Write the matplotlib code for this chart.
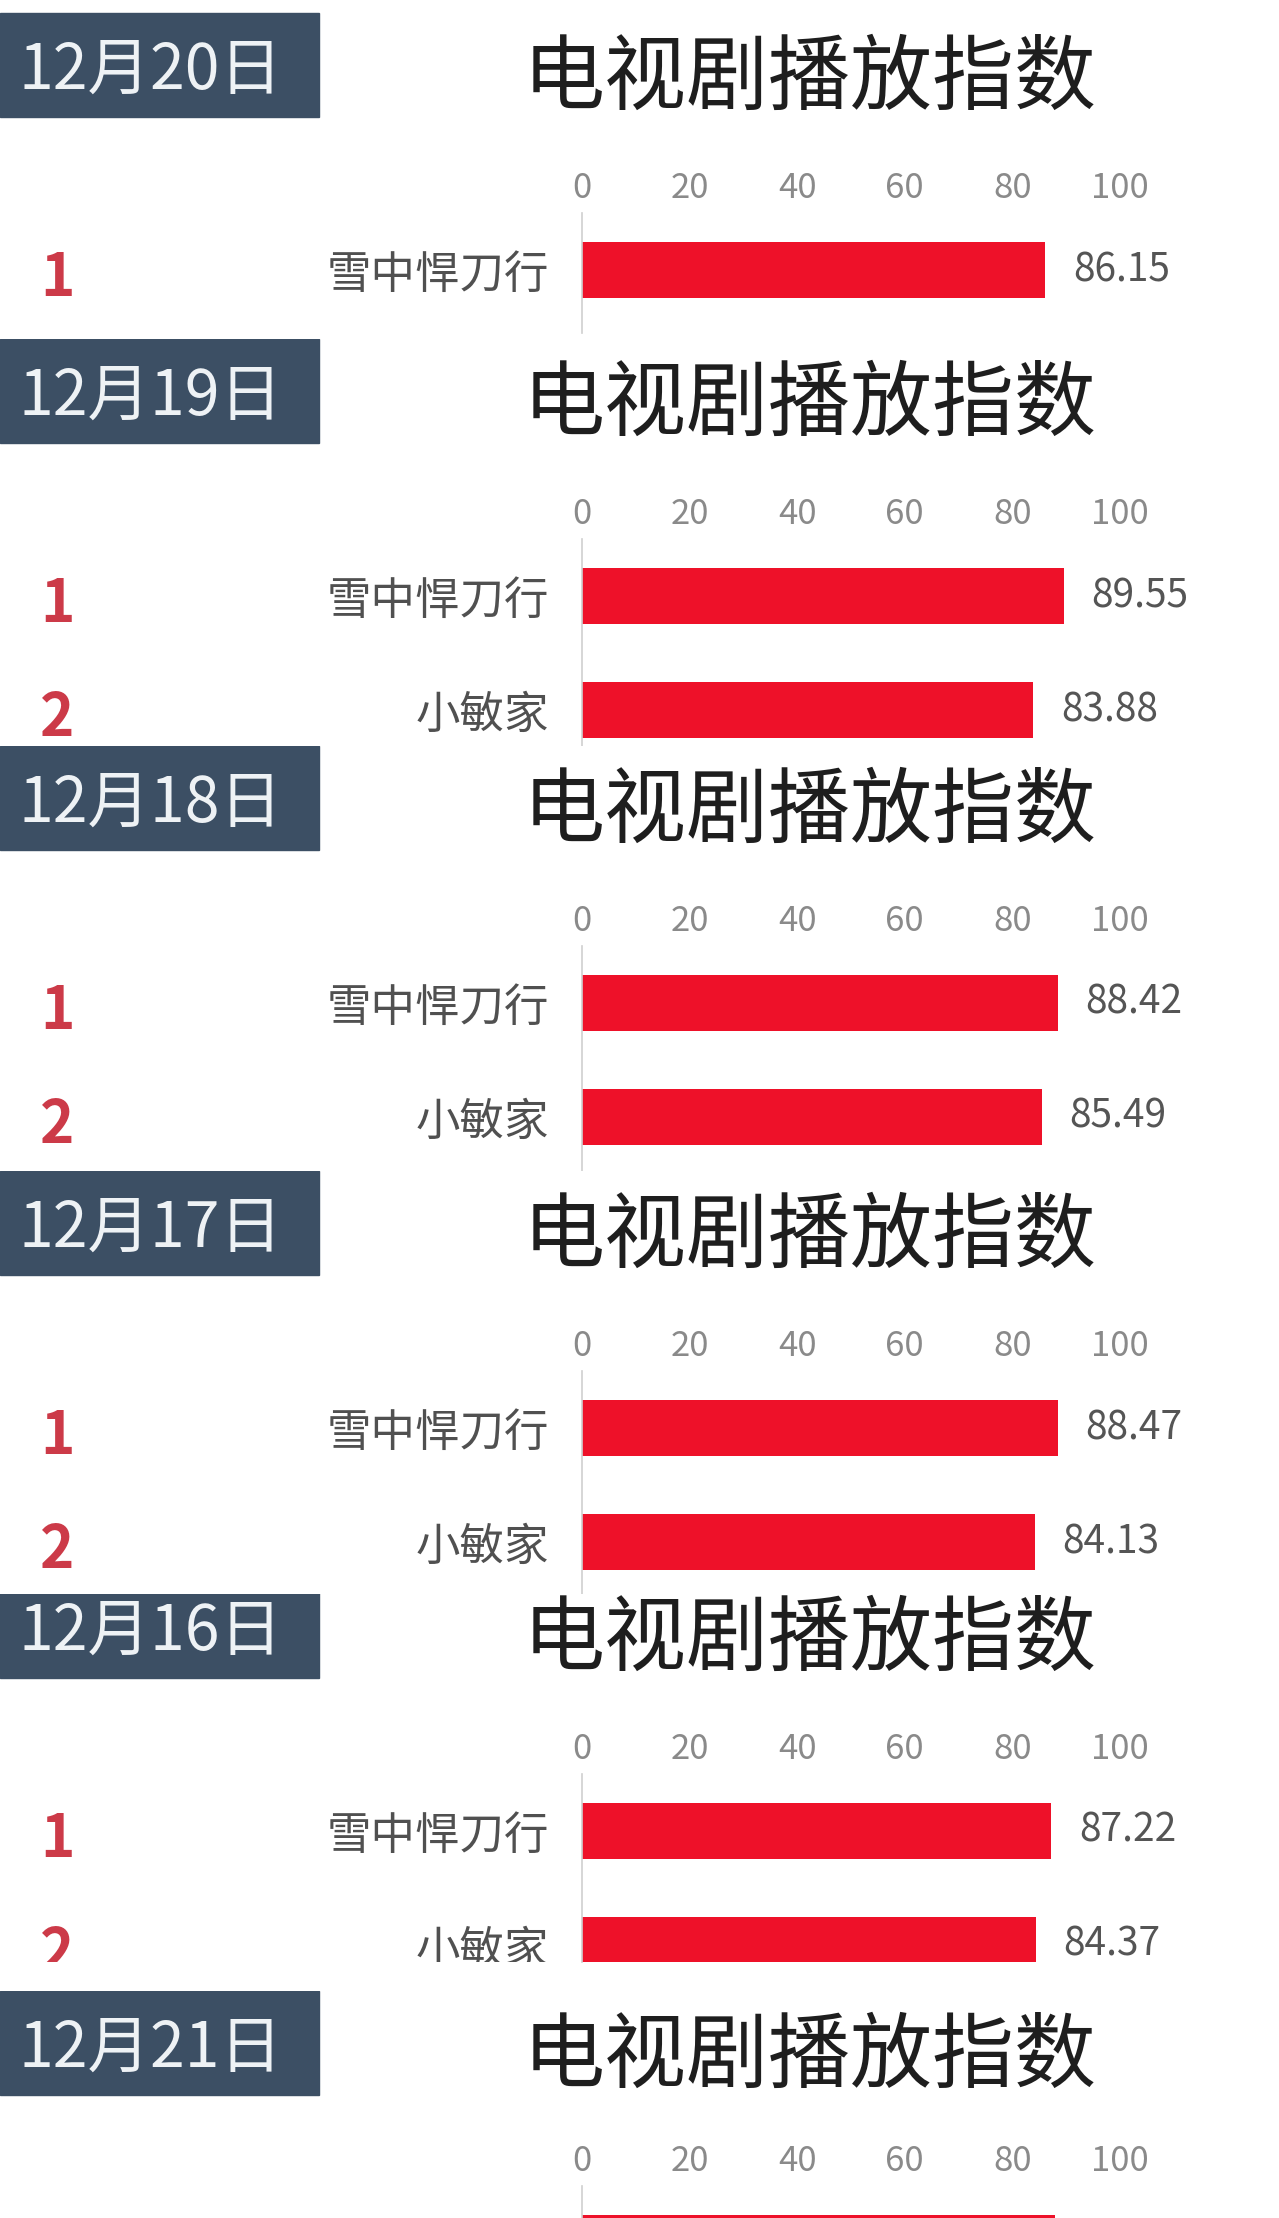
import matplotlib
matplotlib.use('Agg')
import matplotlib.pyplot as plt
from matplotlib.patches import Rectangle
from matplotlib.transforms import Bbox, TransformedBbox

plt.rcParams['font.family'] = ['Noto Sans CJK SC', 'DejaVu Sans']

# one screenshot per day, in the order they are stacked in the picture
dates = ['12月20日', '12月19日', '12月18日', '12月17日', '12月16日', '12月21日']
shows = [
    ['雪中悍刀行'],
    ['雪中悍刀行', '小敏家'],
    ['雪中悍刀行', '小敏家'],
    ['雪中悍刀行', '小敏家'],
    ['雪中悍刀行', '小敏家'],
    ['雪中悍刀行'],
]
values = [
    [86.15],
    [89.55, 83.88],
    [88.42, 85.49],
    [88.47, 84.13],
    [87.22, 84.37],
    [88.0],
]
title = '电视剧播放指数'
ticks = [0, 20, 40, 60, 80, 100]

# where each screenshot sits (pixels from the top)
box_tops = [13, 339, 746, 1171, 1574, 1991]
panel_tops = [0, 339, 746, 1171, 1594, 1991]
panel_bottoms = [339, 746, 1171, 1594, 1962, 2218]
bar_shift = [0, 0, 0, 0, 0, -5]

W, H = 1279, 2218
fig = plt.figure(figsize=(W / 100, H / 100), dpi=100)
fig.patch.set_facecolor('white')


def px_axes(x0, y0, x1, y1):
    return fig.add_axes([x0 / W, 1 - y1 / H, (x1 - x0) / W, (y1 - y0) / H])


pitch = 114
for i, date in enumerate(dates):
    top, bot, B = panel_tops[i], panel_bottoms[i], box_tops[i]
    n = len(values[i])

    # white panel that covers the screenshot above it
    pan = px_axes(0, top, W, bot)
    pan.set_xlim(0, W)
    pan.set_ylim(bot, top)
    pan.set_xticks([])
    pan.set_yticks([])
    for s in pan.spines.values():
        s.set_visible(False)
    pan.set_facecolor('white')

    pan.add_patch(Rectangle((0, B), 319, 104, color='#3c4f64', clip_on=True))
    pan.text(19, B + 58, date, ha='left', va='center', fontsize=45,
             color='#eef2f5', clip_on=True)
    pan.text(810, B + 66, title, ha='center', va='center', fontsize=59,
             color='#1e1e1e', clip_on=True)

    c1 = B + 257 + bar_shift[i]
    for k in range(n):
        pan.text(57, c1 + pitch * k + 9, str(k + 1), ha='center', va='center',
                 fontsize=42, fontweight='bold', color='#cc3a48', clip_on=True)

    # bar chart
    ax_top = c1 - 57
    ax_bot = min(c1 + pitch * (n - 1) + 63, bot)
    ax = px_axes(582, ax_top, 1120, ax_bot)
    ax.set_facecolor('none')
    bars = ax.barh(range(n), values[i], height=56 / pitch, color='#ee1129')
    ax.xaxis.tick_top()
    ax.set_xticks(ticks)
    ax.set_yticks(range(n))
    ax.set_yticklabels(shows[i])
    # limits after the ticks, so set_yticks does not widen the view
    ax.set_xlim(0, 100)
    ax.set_ylim((ax_bot - c1) / pitch, (ax_top - c1) / pitch)
    ax.tick_params(axis='x', length=0, pad=5, labelsize=25, labelcolor='#8a8a8a')
    ax.tick_params(axis='y', length=0, pad=24, labelsize=32, labelcolor='#505050')
    for s in ['top', 'right', 'bottom']:
        ax.spines[s].set_visible(False)
    ax.spines['left'].set_color('#cfcfcf')
    ax.spines['left'].set_linewidth(1.2)
    texts = ax.bar_label(bars, labels=[f'{v:.2f}' for v in values[i]],
                         padding=20, fontsize=28, color='#555555')
    # keep row labels inside the visible strip of this screenshot
    clip = TransformedBbox(Bbox.from_extents(0, 1 - ax_bot / H, 1, 1 - ax_top / H),
                           fig.transFigure)
    for t in list(texts) + ax.get_yticklabels():
        t.set_clip_on(True)
        t.set_clip_box(clip)

fig.savefig('out.png', dpi=100, facecolor='white')
